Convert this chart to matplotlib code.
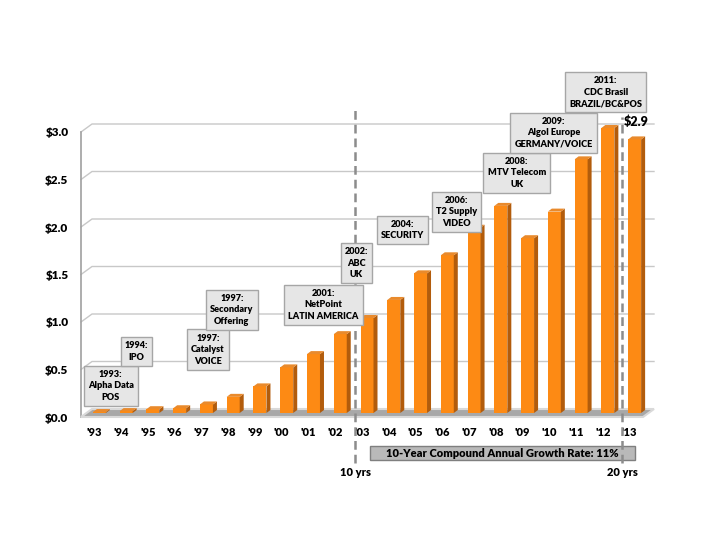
import matplotlib
matplotlib.use("Agg")
import matplotlib.pyplot as plt
from matplotlib.patches import Polygon, Rectangle
import numpy as np

# %% data
years = ["'93", "'94", "'95", "'96", "'97", "'98", "'99", "'00", "'01", "'02", "'03",
         "'04", "'05", "'06", "'07", "'08", "'09", "'10", "'11", "'12", "'13"]
revenue = [0.01, 0.02, 0.04, 0.05, 0.09, 0.17, 0.28, 0.48, 0.62, 0.83, 1.00,
           1.19, 1.47, 1.66, 1.95, 2.18, 1.84, 2.12, 2.67, 3.00, 2.88]
ytick_vals = [0.0, 0.5, 1.0, 1.5, 2.0, 2.5, 3.0]

events = ["1993:\nAlpha Data\nPOS", "1994:\nIPO", "1997:\nCatalyst\nVOICE",
          "1997:\nSecondary\nOffering", "2001:\nNetPoint\nLATIN AMERICA", "2002:\nABC\nUK",
          "2004:\nSECURITY", "2006:\nT2 Supply\nVIDEO", "2008:\nMTV Telecom\nUK",
          "2009:\nAlgol Europe\nGERMANY/VOICE", "2011:\nCDC Brasil\nBRAZIL/BC&POS"]
event_pos = [(0.61, 0.33), (1.58, 0.69), (4.24, 0.71), (5.14, 1.13), (8.55, 1.18),
             (9.79, 1.62), (11.51, 1.97), (13.53, 2.16), (15.78, 2.57), (17.16, 2.99),
             (19.11, 3.42)]
last_label = "$2.9"
cagr_text = "10-Year Compound Annual Growth Rate: 11%"

# %% style
FONT = ["Lato", "DejaVu Sans"]
WT = 800
plt.rcParams["font.family"] = FONT

orange = "#fd8a14"
orange_side = "#b25c0c"
orange_top = "#e98a2c"
grid_c = "#c8c8c8"

fig = plt.figure(figsize=(7.2, 5.4), dpi=100)
ax = fig.add_axes([81 / 720, 123 / 540, 562 / 720, 285 / 540])
ax.set_xlim(-0.5, 20.5)
ax.set_ylim(0, 3)

# pixel -> data unit helpers
px_x = 562 / 21.0
px_y = 285 / 3.0
def dx(p):
    return p / px_x
def dy(p):
    return p / px_y

n = len(years)
x = np.arange(n)

# back wall / gridlines
wall_dx, wall_dy = dx(11), dy(8)
for v in ytick_vals[1:]:
    ax.plot([-0.5, -0.5 + wall_dx, 20.5 + wall_dx], [v, v + wall_dy, v + wall_dy],
            color=grid_c, lw=1, clip_on=False, zorder=1)
ax.plot([-0.5, -0.5], [0, 3], color="#a0a0a0", lw=1.2, clip_on=False, zorder=1)

# floor
floor = Polygon([(-0.5, 0), (20.5, 0), (20.5 + wall_dx, wall_dy), (-0.5 + wall_dx, wall_dy)],
                closed=True, facecolor="#a8a8a8", edgecolor="#d9d9d9", lw=1.5,
                clip_on=False, zorder=2)
ax.add_patch(floor)

# bars with pseudo 3D faces
off_x, off_y = dx(5), dy(4)
w = 13 / px_x
sdx, sdy = dx(4), dy(3)
ax.bar(x + off_x, revenue, width=w, bottom=off_y, color=orange, zorder=4, clip_on=False)
for xi, v in zip(x, revenue):
    xl = xi + off_x - w / 2
    xr = xi + off_x + w / 2
    b = off_y
    side = Polygon([(xr, b), (xr, b + v), (xr + sdx, b + v + sdy), (xr + sdx, b + sdy)],
                   closed=True, facecolor=orange_side, edgecolor="none", zorder=4, clip_on=False)
    top = Polygon([(xl, b + v), (xr, b + v), (xr + sdx, b + v + sdy), (xl + sdx, b + v + sdy)],
                  closed=True, facecolor=orange_top, edgecolor="none", zorder=4, clip_on=False)
    ax.add_patch(side)
    ax.add_patch(top)

# axes ticks
ax.set_yticks(ytick_vals)
ax.set_yticklabels(["$%.1f" % v for v in ytick_vals], fontsize=8.5, fontweight=WT)
ax.set_xticks(x)
ax.set_xticklabels(years, fontsize=8, fontweight=WT)
ax.tick_params(axis="y", length=0, pad=9)
ax.tick_params(axis="x", length=0, pad=7)
for s in ax.spines.values():
    s.set_visible(False)
ax.patch.set_alpha(0)

# dashed markers
for xv, ytop, lab in [(9.75, 3.27, "10 yrs"), (19.72, 3.16, "20 yrs")]:
    ax.plot([xv, xv], [-0.48, ytop], color="#8c8c8c", lw=1.8, ls=(0, (3.5, 2)),
            clip_on=False, zorder=6)
    ax.text(xv, -0.58, lab, ha="center", va="center", fontsize=8, fontweight=WT,
            clip_on=False)

# CAGR box
cagr_x0 = 10.3
cagr = Rectangle((cagr_x0, -0.453), dx(265), dy(14), facecolor="#b9b9b9",
                 edgecolor="#7f7f7f", lw=1, clip_on=False, zorder=5)
ax.add_patch(cagr)
ax.text(cagr_x0 + dx(265) / 2, -0.453 + dy(7), cagr_text, ha="center", va="center",
        fontsize=8, fontweight=WT, zorder=6, clip_on=False)

# event boxes
for txt, (ex, ey) in zip(events, event_pos):
    ax.text(ex, ey, txt, ha="center", va="center", fontsize=6.6, fontweight=WT,
            linespacing=1.35, zorder=7, clip_on=False,
            bbox=dict(boxstyle="square,pad=0.45", facecolor="#e6e6e6", edgecolor="#a6a6a6", lw=1))

ax.text(20.24, 3.11, last_label, ha="center", va="center", fontsize=9, fontweight=WT,
        clip_on=False, zorder=7)

fig.savefig("out.png", dpi=100)
